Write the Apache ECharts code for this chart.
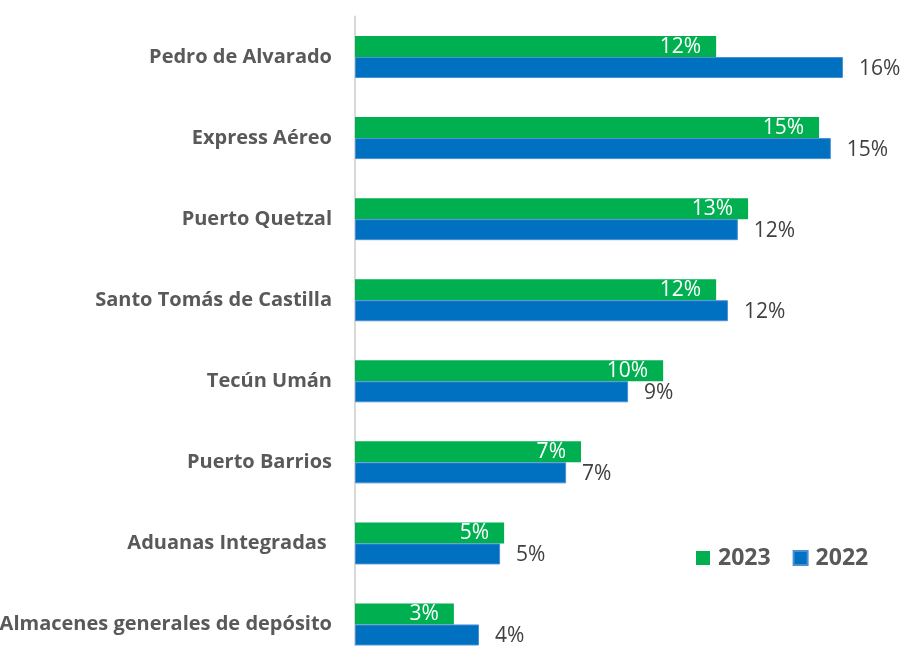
<html>
<head>
    <meta charset="utf-8">
    <script src="https://cdn.jsdelivr.net/npm/echarts@6/dist/echarts.min.js"></script>
</head>
<body style="margin:0;overflow:hidden">
<!-- el lienzo es más alto que la ventana: la última categoría queda cortada como en el original -->
<div id="main" style="width: 900px;height:665px;"></div>
<script>
    // categorías (de arriba hacia abajo)
    var categorias = ['Pedro de Alvarado', 'Express Aéreo', 'Puerto Quetzal', 'Santo Tomás de Castilla',
        'Tecún Umán', 'Puerto Barrios', 'Aduanas Integradas ', 'Almacenes generales de depósito'];
    // porcentajes
    var valores2023 = [11.65, 14.97, 12.68, 11.65, 9.94, 7.29, 4.81, 3.19];
    var valores2022 = [15.74, 15.35, 12.35, 12.03, 8.81, 6.81, 4.68, 4.00];

    var myChart = echarts.init(document.getElementById('main'));
    var fmt = function (p) {
        return Math.round(p.value) + '%';
    };
    var font = 'Open Sans';

    option = {
        animation: false,
        grid: {
            left: 355,
            top: 16.5,
            width: 527,
            bottom: 0,
            outerBoundsMode: 'none'
        },
        legend: {
            data: ['2023', '2022'],
            left: 691,
            top: 540,
            itemWidth: 14,
            itemHeight: 14,
            itemGap: 22,
            icon: 'rect',
            textStyle: {
                fontFamily: font,
                fontSize: 23,
                lineHeight: 26,
                fontWeight: 'bold',
                color: '#595959',
                padding: [0, 0, 0, 3]
            }
        },
        xAxis: {
            type: 'value',
            min: 0,
            max: 17,
            show: false
        },
        yAxis: {
            type: 'category',
            inverse: true,
            data: categorias,
            axisLine: {lineStyle: {color: '#d9d9d9', width: 2}},
            axisTick: {show: false},
            axisLabel: {
                margin: 23,
                fontFamily: font,
                fontSize: 20,
                fontWeight: 'bold',
                color: '#595959'
            }
        },
        series: [
            {
                name: '2023',
                type: 'bar',
                data: valores2023,
                barWidth: 21,
                barGap: '0%',
                itemStyle: {color: '#00B050'},
                label: {
                    show: true,
                    position: 'insideRight',
                    distance: 15,
                    formatter: fmt,
                    fontFamily: font,
                    fontSize: 21,
                    color: '#ffffff'
                }
            },
            {
                name: '2022',
                type: 'bar',
                data: valores2022,
                barWidth: 21,
                itemStyle: {color: '#0070C0', borderColor: '#4a8fd4', borderWidth: 1},
                label: {
                    show: true,
                    position: 'right',
                    distance: 16,
                    offset: [0, 1],
                    formatter: fmt,
                    fontFamily: font,
                    fontSize: 21,
                    color: '#404040'
                }
            }
        ]
    };

    myChart.setOption(option);
</script>
</body>
</html>
